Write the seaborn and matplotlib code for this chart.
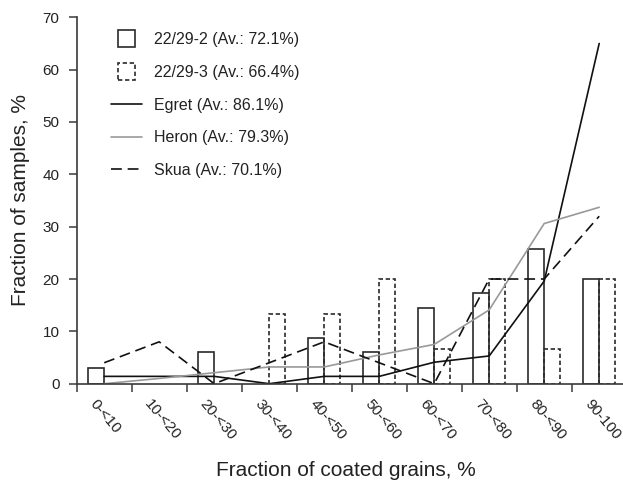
import numpy as np
import pandas as pd
import matplotlib
matplotlib.use("Agg")
import matplotlib.pyplot as plt
import matplotlib.transforms as mtransforms
from matplotlib.patches import Rectangle
from matplotlib.lines import Line2D
from matplotlib.legend_handler import HandlerPatch
import seaborn as sns

# ---------------- data ----------------
categories = ["0-<10", "10-<20", "20-<30", "30-<40", "40-<50",
              "50-<60", "60-<70", "70-<80", "80-<90", "90-100"]
bar_series = ["22/29-2 (Av.: 72.1%)", "22/29-3 (Av.: 66.4%)"]
s_22_29_2 = [3.0, np.nan, 6.0, np.nan, 8.8, 6.0, 14.5, 17.4, 25.8, 20.0]
s_22_29_3 = [np.nan, np.nan, np.nan, 13.3, 13.3, 20.0, 6.7, 20.0, 6.7, 20.0]
line_series = ["Egret (Av.: 86.1%)", "Heron (Av.: 79.3%)", "Skua (Av.: 70.1%)"]
egret = [1.4, 1.4, 1.4, 0.0, 1.4, 1.4, 4.1, 5.3, 19.6, 65.0]
heron = [0.0, 1.0, 2.1, 3.2, 3.2, 5.5, 7.5, 14.1, 30.6, 33.7]
skua = [4.0, 8.0, 0.0, 4.0, 8.0, 4.0, 0.0, 20.0, 20.0, 32.0]
xlabel = "Fraction of coated grains, %"
ylabel = "Fraction of samples, %"
yticks = [0, 10, 20, 30, 40, 50, 60, 70]

# ---------------- style ----------------
sns.set_theme(style="ticks")
plt.rcParams["font.family"] = ["Liberation Sans", "DejaVu Sans"]
AX_COLOR = "#3a3a3a"
TXT_COLOR = "#222222"

pos = np.arange(len(categories))
bar_df = pd.DataFrame({
    "cat": list(categories) * 2,
    "series": [bar_series[0]] * len(categories) + [bar_series[1]] * len(categories),
    "value": list(s_22_29_2) + list(s_22_29_3),
})
line_df = pd.DataFrame({
    "x": list(pos) * 3,
    "series": sum([[s] * len(categories) for s in line_series], []),
    "value": list(egret) + list(heron) + list(skua),
})

fig = plt.figure(figsize=(6.23, 4.84), dpi=100)
W, H = 623.0, 484.0
x0, x1 = 76.7, 626.7
y0, y1 = 383.7, 17.3
ax = fig.add_axes([x0 / W, (H - y0) / H, (x1 - x0) / W, (y0 - y1) / H])

sns.barplot(data=bar_df, x="cat", y="value", hue="series", order=categories,
            hue_order=bar_series, width=0.58, gap=0, ax=ax,
            palette=["white", "white"], legend=False, errorbar=None)
bar_styles = ["-", (0, (2.6, 1.6))]
for cont, ls in zip(ax.containers, bar_styles):
    for p in cont.patches:
        p.set_facecolor("none")
        p.set_edgecolor("#2a2a2a")
        p.set_linewidth(1.2)
        p.set_linestyle(ls)

sns.lineplot(data=line_df, x="x", y="value", hue="series", style="series",
             hue_order=line_series, style_order=line_series,
             palette=["#111111", "#999999", "#111111"],
             dashes={line_series[0]: "", line_series[1]: "", line_series[2]: (6.5, 3.5)},
             linewidth=1.2, ax=ax, legend=False, sort=False)

# ---------------- axes ----------------
ax.set_xlim(-0.5, 9.5)
ax.set_ylim(0, 70)
ax.set_yticks(yticks)
ax.set_xticks(np.arange(-0.5, len(categories) - 0.4, 1.0))
ax.set_xticklabels([])
ax.set_xticks(pos, categories, minor=True)
ax.tick_params(axis="x", which="minor", length=0, pad=9.5, labelsize=11, labelcolor=TXT_COLOR)
ax.tick_params(axis="x", which="major", length=6, width=1.1, color=AX_COLOR, direction="out")
ax.tick_params(axis="y", which="major", length=6.1, width=1.1, color=AX_COLOR,
               direction="out", labelsize=11, labelcolor=TXT_COLOR, pad=6.3)
offset = mtransforms.ScaledTranslation(-6.5 / 100, 0, fig.dpi_scale_trans)
for lab in ax.get_xticklabels(minor=True):
    lab.set_rotation(-50)
    lab.set_rotation_mode("anchor")
    lab.set_ha("left")
    lab.set_va("top")
    lab.set_transform(lab.get_transform() + offset)

for s in ["top", "right"]:
    ax.spines[s].set_visible(False)
for s in ["left", "bottom"]:
    ax.spines[s].set_color(AX_COLOR)
    ax.spines[s].set_linewidth(1.2)
ax.grid(False)
ax.set_facecolor("white")

ax.set_xlabel(xlabel, fontsize=15, color=TXT_COLOR)
ax.set_ylabel(ylabel, fontsize=15, color=TXT_COLOR)
ax.xaxis.set_label_coords(0.4896, -0.211)
ax.yaxis.set_label_coords(-0.085, 0.5)

# ---------------- legend ----------------
def square_patch(legend, orig_handle, xdescent, ydescent, width, height, fontsize):
    side = 12.5
    return Rectangle((xdescent + (width - side) / 2, ydescent + (height - side) / 2),
                     side, side)

handles = [
    Rectangle((0, 0), 1, 1, facecolor="white", edgecolor="#2a2a2a", linewidth=1.2),
    Rectangle((0, 0), 1, 1, facecolor="white", edgecolor="#2a2a2a", linewidth=1.2,
              linestyle=(0, (2.6, 1.6))),
    Line2D([], [], color="#111111", linewidth=1.2),
    Line2D([], [], color="#999999", linewidth=1.2),
    Line2D([], [], color="#111111", linewidth=1.2, dashes=(6.5, 3.5)),
]
labels = bar_series + line_series
leg = fig.legend(handles, labels, loc="upper left",
                 bbox_to_anchor=(105 / W, (H - 26) / H), bbox_transform=fig.transFigure,
                 frameon=False, fontsize=11.5, handlelength=1.9, handletextpad=0.75,
                 labelspacing=1.1, borderaxespad=0,
                 handler_map={Rectangle: HandlerPatch(patch_func=square_patch)})
for t in leg.get_texts():
    t.set_color(TXT_COLOR)

fig.savefig("out.png", dpi=100, facecolor="white")
